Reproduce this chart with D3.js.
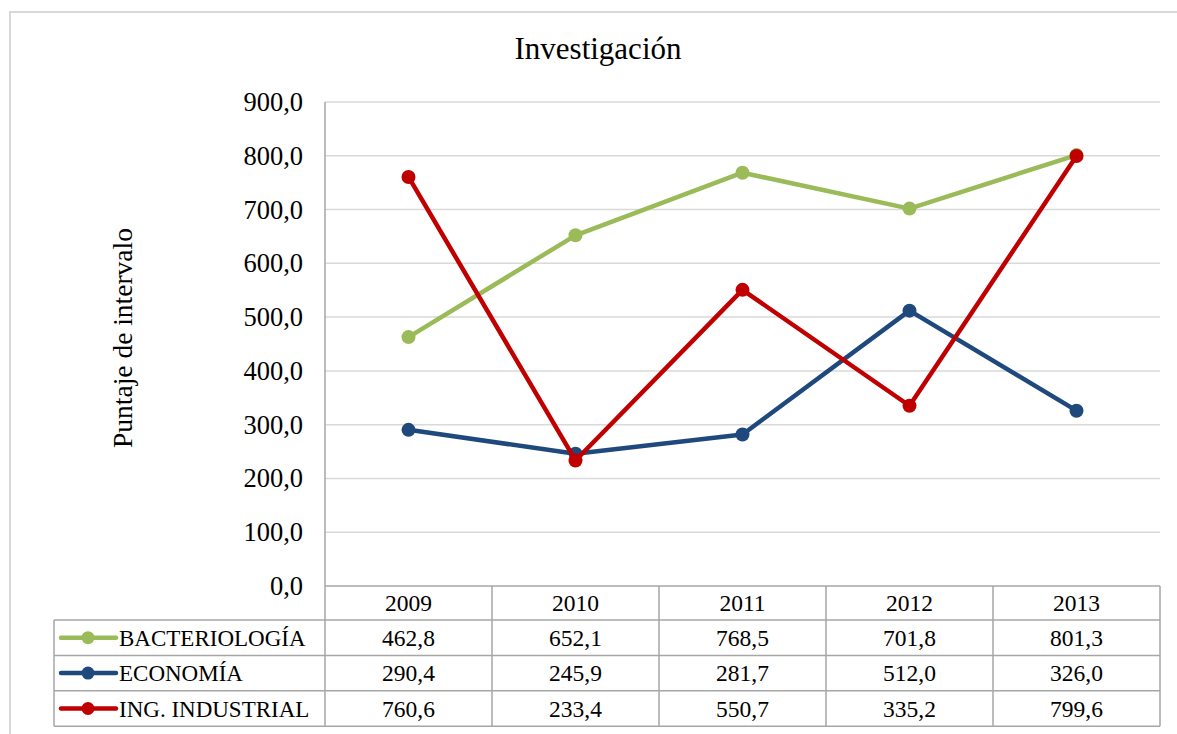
<!DOCTYPE html>
<meta charset="utf-8">
<style>
    body { margin: 0; background: #fff; }
</style>
<body>
<script src="https://cdn.jsdelivr.net/npm/d3@7"></script>
<script>
    /* Data */
    var years = ["2009", "2010", "2011", "2012", "2013"];
    var bacteriologia = [462.8, 652.1, 768.5, 701.8, 801.3];
    var economia = [290.4, 245.9, 281.7, 512.0, 326.0];
    var ingIndustrial = [760.6, 233.4, 550.7, 335.2, 799.6];
    var seriesNames = ["BACTERIOLOGÍA", "ECONOMÍA", "ING. INDUSTRIAL"];
    var yTicks = [0, 100, 200, 300, 400, 500, 600, 700, 800, 900];

    var series = [
        { name: seriesNames[0], values: bacteriologia, color: "#9bbb59" },
        { name: seriesNames[1], values: economia, color: "#1f497d" },
        { name: seriesNames[2], values: ingIndustrial, color: "#c00000" }
    ];

    /* Layout */
    var w = 1177, h = 734;
    var plotLeft = 325, plotRight = 1160, plotTop = 102, plotBottom = 586;
    var rowH = 35.4;
    var headerH = 34;
    var legendLeft = 54;
    var serif = "'Liberation Serif', 'Times New Roman', serif";

    var fmt = d3.formatLocale({ decimal: ",", thousands: ".", grouping: [3], currency: ["", ""] }).format(".1f");

    var svg = d3.select("body").append("svg")
        .attr("width", w)
        .attr("height", h);

    // outer chart border
    svg.append("rect")
        .attr("x", 10).attr("y", 12)
        .attr("width", w + 20).attr("height", h + 20)
        .attr("fill", "none")
        .attr("stroke", "#d9d9d9")
        .attr("stroke-width", 2);

    var xScale = d3.scaleBand()
        .domain(years)
        .range([plotLeft, plotRight]);

    var yScale = d3.scaleLinear()
        .domain([0, 900])
        .range([plotBottom, plotTop]);

    // title
    svg.append("text")
        .attr("x", 598).attr("y", 59)
        .attr("text-anchor", "middle")
        .style("font-family", serif)
        .style("font-size", "31px")
        .text("Investigación");

    // y axis title
    svg.append("text")
        .attr("transform", "translate(132,338) rotate(-90)")
        .attr("text-anchor", "middle")
        .style("font-family", serif)
        .style("font-size", "27.5px")
        .text("Puntaje de intervalo");

    // gridlines
    svg.append("g")
        .selectAll("line")
        .data(yTicks.filter(function (d) { return d > 0; }))
        .enter()
        .append("line")
        .attr("x1", plotLeft).attr("x2", plotRight)
        .attr("y1", function (d) { return yScale(d); })
        .attr("y2", function (d) { return yScale(d); })
        .attr("stroke", "#d9d9d9")
        .attr("stroke-width", 1.5);

    // y axis labels
    var yAxis = d3.axisLeft(yScale)
        .tickValues(yTicks)
        .tickFormat(fmt)
        .tickSize(0)
        .tickPadding(22);

    var yG = svg.append("g")
        .attr("transform", "translate(" + plotLeft + ",0)")
        .call(yAxis);
    yG.select(".domain").remove();
    yG.selectAll("text")
        .style("font-size", "26.5px")
        .style("font-family", serif)
        .attr("fill", "#000");

    /* Data table */
    var tableBottom = plotBottom + headerH + rowH * 3;
    var tableColor = "#a6a6a6";
    var tbl = svg.append("g");

    // horizontal lines
    tbl.append("line")
        .attr("x1", plotLeft).attr("x2", plotRight)
        .attr("y1", plotBottom).attr("y2", plotBottom)
        .attr("stroke", tableColor).attr("stroke-width", 1.5);
    for (var i = 0; i <= 3; i++) {
        var yy = plotBottom + headerH + rowH * i;
        tbl.append("line")
            .attr("x1", legendLeft).attr("x2", plotRight)
            .attr("y1", yy).attr("y2", yy)
            .attr("stroke", tableColor).attr("stroke-width", 1.5);
    }

    // vertical lines at category boundaries
    var bounds = years.map(function (d) { return xScale(d); }).concat([plotRight]);
    tbl.selectAll("line.v")
        .data(bounds)
        .enter()
        .append("line")
        .attr("class", "v")
        .attr("x1", function (d) { return d; })
        .attr("x2", function (d) { return d; })
        .attr("y1", function (d, i) { return i === 0 ? plotTop : plotBottom; })
        .attr("y2", tableBottom)
        .attr("stroke", tableColor).attr("stroke-width", 1.5);

    tbl.append("line")
        .attr("x1", legendLeft).attr("x2", legendLeft)
        .attr("y1", plotBottom + headerH).attr("y2", tableBottom)
        .attr("stroke", tableColor).attr("stroke-width", 1.5);

    // header years
    tbl.selectAll("text.year")
        .data(years)
        .enter()
        .append("text")
        .attr("class", "year")
        .attr("x", function (d) { return xScale(d) + xScale.bandwidth() / 2; })
        .attr("y", plotBottom + headerH / 2)
        .attr("dy", "0.35em")
        .attr("text-anchor", "middle")
        .style("font-family", serif)
        .style("font-size", "23.5px")
        .text(function (d) { return d; });

    // value rows and legend keys
    series.forEach(function (s, r) {
        var cy = plotBottom + headerH + rowH * r + rowH / 2;

        tbl.selectAll("text.val" + r)
            .data(s.values)
            .enter()
            .append("text")
            .attr("class", "val" + r)
            .attr("x", function (d, j) { return xScale(years[j]) + xScale.bandwidth() / 2; })
            .attr("y", cy)
            .attr("dy", "0.35em")
            .attr("text-anchor", "middle")
            .style("font-family", serif)
            .style("font-size", "23.5px")
            .text(function (d) { return fmt(d); });

        tbl.append("line")
            .attr("x1", 61).attr("x2", 116)
            .attr("y1", cy).attr("y2", cy)
            .attr("stroke", s.color).attr("stroke-width", 4.5)
            .attr("stroke-linecap", "round");
        tbl.append("circle")
            .attr("cx", 88).attr("cy", cy).attr("r", 6.5)
            .attr("fill", s.color);
        tbl.append("text")
            .attr("x", 119).attr("y", cy)
            .attr("dy", "0.35em")
            .style("font-family", serif)
            .style("font-size", "23px")
            .text(s.name);
    });

    /* Lines */
    var lineGenerator = d3.line()
        .x(function (d, j) { return xScale(years[j]) + xScale.bandwidth() / 2; })
        .y(function (d) { return yScale(d); });

    series.forEach(function (s) {
        svg.append("path")
            .attr("d", lineGenerator(s.values))
            .attr("fill", "none")
            .attr("stroke", s.color)
            .attr("stroke-width", 4.5)
            .attr("stroke-linejoin", "round");

        svg.append("g")
            .selectAll("circle")
            .data(s.values)
            .enter()
            .append("circle")
            .attr("cx", function (d, j) { return xScale(years[j]) + xScale.bandwidth() / 2; })
            .attr("cy", function (d) { return yScale(d); })
            .attr("r", 7)
            .attr("fill", s.color);
    });
</script>
</body>
